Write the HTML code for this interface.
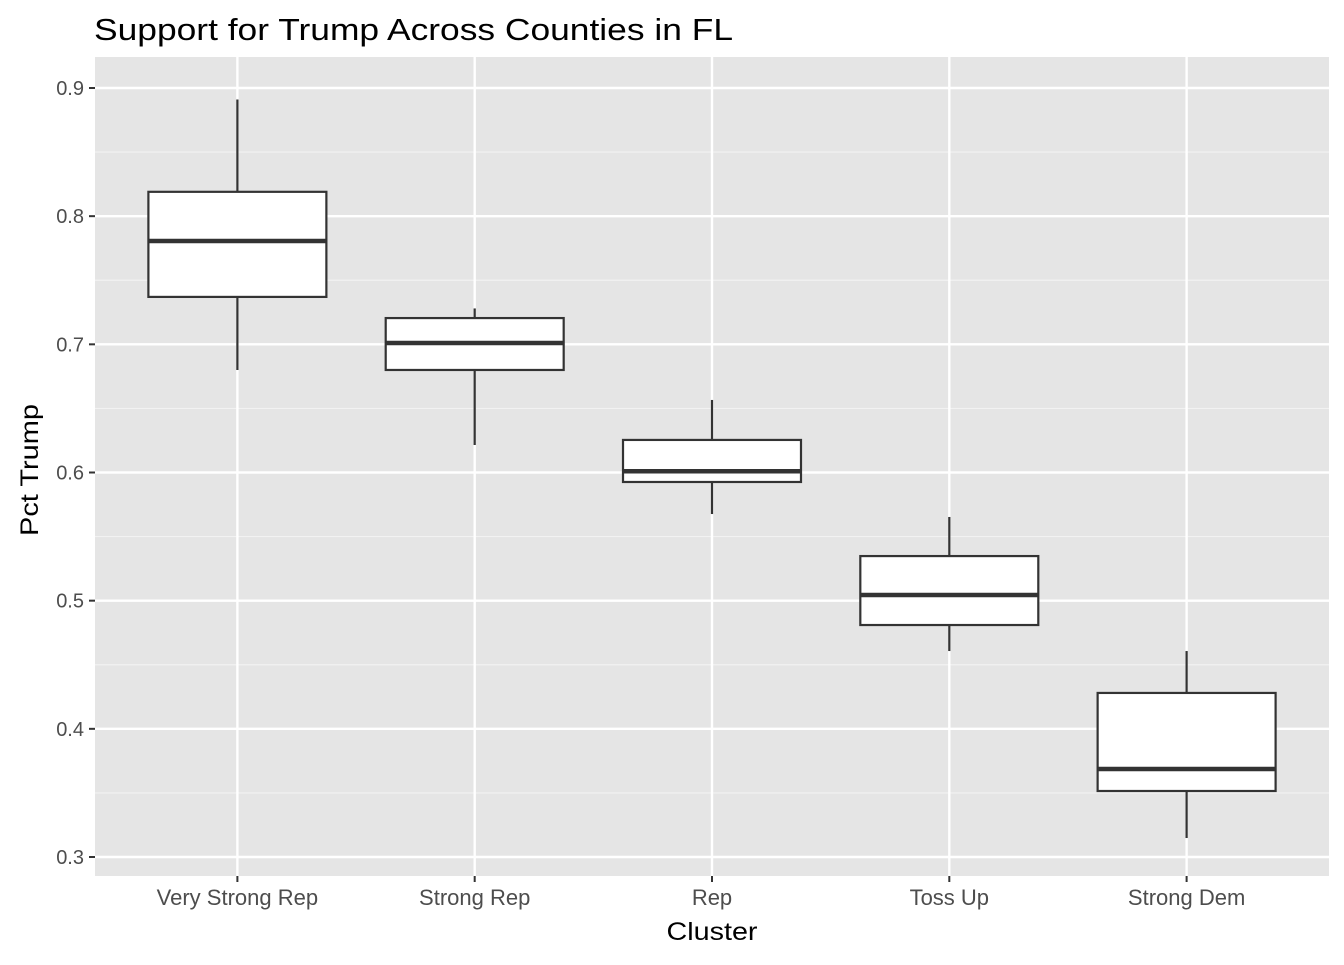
<!DOCTYPE html>
<html><head><meta charset="utf-8"><style>
body{margin:0;background:#fff;}
svg text{font-family:"Liberation Sans",Arial,sans-serif;}
</style></head><body>
<svg id="chart" width="1344" height="960" xmlns="http://www.w3.org/2000/svg">
<text x="94" y="40" font-size="31" textLength="639" lengthAdjust="spacingAndGlyphs" fill="#000">Support for Trump Across Counties in FL</text>
<rect x="95" y="57" width="1234" height="819" fill="#e5e5e5"/>
<g id="grid"></g>
<g id="boxes"></g>
<g id="axes"></g>
<text x="712" y="940" font-size="25" text-anchor="middle" textLength="91" lengthAdjust="spacingAndGlyphs" fill="#000">Cluster</text>
<text transform="translate(38,470) rotate(-90)" font-size="25" text-anchor="middle" textLength="132" lengthAdjust="spacingAndGlyphs" fill="#000">Pct Trump</text>
</svg>
<script>
const categories = ["Very Strong Rep","Strong Rep","Rep","Toss Up","Strong Dem"];
const whiskerLow = [0.680,0.6215,0.5676,0.4607,0.3148];
const q1 = [0.737,0.680,0.5926,0.481,0.3515];
const median = [0.7806,0.701,0.601,0.5044,0.3687];
const q3 = [0.819,0.7205,0.6254,0.5348,0.428];
const whiskerHigh = [0.891,0.728,0.6566,0.5653,0.4607];
const yTicks = [0.3,0.4,0.5,0.6,0.7,0.8,0.9];
const yTickLabels = ["0.3","0.4","0.5","0.6","0.7","0.8","0.9"];

const NS="http://www.w3.org/2000/svg";
const L=95,R=1329,T=57,B=876;
function y(v){return 857-(v-0.3)*(857-88)/0.6;}
const step=(R-L)/(categories.length-1+1.2);
function x(i){return L+step*(i+0.6);}
function mk(tag,attrs,parent){const e=document.createElementNS(NS,tag);for(const k in attrs)e.setAttribute(k,attrs[k]);parent.appendChild(e);return e;}
const grid=document.getElementById('grid'),boxes=document.getElementById('boxes'),axes=document.getElementById('axes');
for(let i=0;i<yTicks.length-1;i++){
  const v=(yTicks[i]+yTicks[i+1])/2;
  const l=mk('line',{x1:L,x2:R,y1:y(v),y2:y(v),stroke:'#f2f2f2','stroke-width':1.2},grid);
  
  
}
yTicks.forEach((v,i)=>{
  const l=mk('line',{x1:L,x2:R,y1:y(v),y2:y(v),stroke:'#fff','stroke-width':2.4},grid);
  
  
  const t=mk('line',{x1:L-6,x2:L,y1:y(v),y2:y(v),stroke:'#333','stroke-width':2},axes);
  
  
  const tx=mk('text',{x:L-11,y:y(v)+7,'font-size':20,'text-anchor':'end',fill:'#4d4d4d'},axes);
  tx.textContent=yTickLabels[i];
  
  
});
categories.forEach((c,i)=>{
  const cx=x(i);
  const g=mk('line',{x1:cx,x2:cx,y1:T,y2:B,stroke:'#fff','stroke-width':2.4},grid);
  
  
  const t=mk('line',{x1:cx,x2:cx,y1:B,y2:B+6,stroke:'#333','stroke-width':2},axes);
  
  
  const tx=mk('text',{x:cx,y:B+29,'font-size':22,'text-anchor':'middle',fill:'#4d4d4d'},axes);
  tx.textContent=c;
  
  
  const w=step*0.75;
  const grp=mk('g',{},boxes);
  
  
  mk('line',{x1:cx,x2:cx,y1:y(whiskerHigh[i]),y2:y(q3[i]),stroke:'#333','stroke-width':2.2},grp);
  mk('line',{x1:cx,x2:cx,y1:y(q1[i]),y2:y(whiskerLow[i]),stroke:'#333','stroke-width':2.2},grp);
  mk('rect',{x:cx-w/2,y:y(q3[i]),width:w,height:y(q1[i])-y(q3[i]),fill:'#fff',stroke:'#333','stroke-width':2.2},grp);
  mk('line',{x1:cx-w/2,x2:cx+w/2,y1:y(median[i]),y2:y(median[i]),stroke:'#333','stroke-width':4.5},grp);
});
</script>
</body></html>
